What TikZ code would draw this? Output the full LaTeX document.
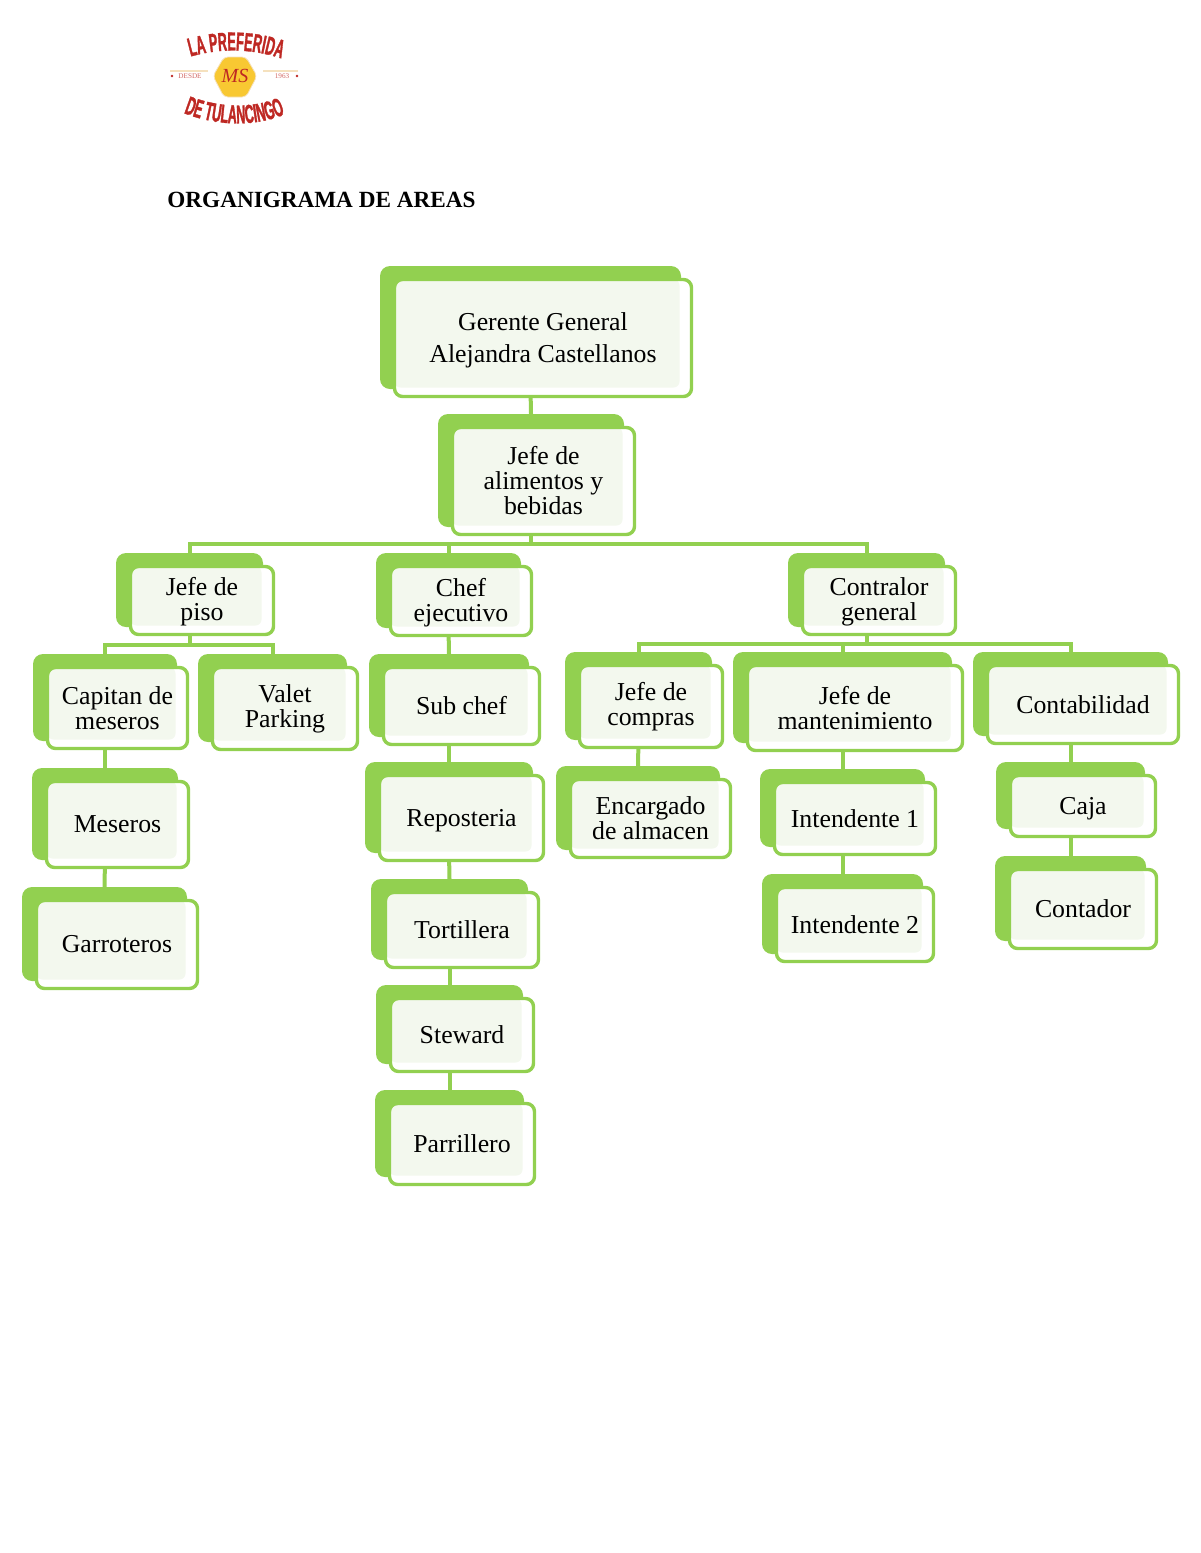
\documentclass[tikz,border=0pt]{standalone}
\usepackage{fontspec}
\usetikzlibrary{backgrounds,decorations.text}
\setmainfont{Liberation Serif}
\newfontfamily\logofont[FakeStretch=0.48,BoldFeatures={FakeBold=1.2}]{Liberation Sans}

\definecolor{boxgreen}{RGB}{146,208,80}
\definecolor{boxlight}{RGB}{243,248,238}
\definecolor{logored}{RGB}{190,40,35}
\definecolor{logoyellow}{RGB}{248,200,50}
\definecolor{logotan}{RGB}{245,225,190}

\tikzset{
  backbox/.style={draw=none,fill=boxgreen,rounded corners=5pt,inner sep=0pt,outer sep=0pt},
  frontbox/.style={draw=boxgreen,line width=1.7pt,fill=white,rounded corners=4pt,inner sep=0pt,outer sep=0pt,
    align=center,font=\fontsize{12.9}{12.5}\selectfont,
    path picture={\fill[boxlight,rounded corners=3pt] (path picture bounding box.north west) rectangle
      ([xshift=-6pt,yshift=4.5pt]path picture bounding box.south east);}},
  link/.style={draw=boxgreen,line width=2pt},
  logotext/.style={decorate,decoration={text along path,text align=center,text={#1}}},
}

% name, left, top, right, bottom, text
\newcommand{\orgbox}[6]{
  \node [backbox,minimum width={(#4-#2+1)*0.5pt},minimum height={(#5-#3+3)*0.5pt}]
    (#1back) at ({(#2+#4)/2-12.5},{(#3+#5)/2-10.5}) {};
  \node [frontbox,minimum width={(#4-#2-3)*0.5pt},minimum height={(#5-#3-3)*0.5pt}]
    (#1) at ({(#2+#4)/2},{(#3+#5)/2}) {#6};
}
\newcommand{\lowerline}{\rule{0pt}{10.5pt}}
\newcommand{\nodepth}[1]{\raisebox{0pt}[\height][0pt]{#1}}

\begin{document}
\begin{tikzpicture}[x=0.5pt,y=-0.5pt]
\useasboundingbox (0,0) rectangle (1200,1553);

% logo
\path [logotext={|\logofont\bfseries\fontsize{13}{13}\selectfont\color{logored}|LA PREFERIDA}]
  (189,57) .. controls (220,48) and (250,48) .. (283,59);
\path [logotext={|\logofont\bfseries\fontsize{13}{13}\selectfont\color{logored}|DE TULANCINGO}]
  (181,112) .. controls (215,126) and (255,128) .. (288,113);
\draw [logotan,line width=0.6pt] (170,71) -- (208,71);
\draw [logotan,line width=0.6pt] (263,71) -- (298,71);
\fill [logoyellow,draw=logotan,line width=0.4pt,rounded corners=2pt]
  (213,76) -- (224,57) -- (246,57) -- (257,76) -- (246,97) -- (224,97) -- cycle;
\node [text=logored,font=\fontsize{10}{10}\selectfont\itshape] (logoms) at (235,76) {MS};
\node [text=logored!70,font=\fontsize{3.6}{4}\selectfont] (logodesde) at (190,76) {DESDE};
\node [text=logored!70,font=\fontsize{3.6}{4}\selectfont] (logoyear) at (282,76) {1963};
\fill [logored] (172,76) circle (0.7pt) (297,76) circle (0.7pt);

% title
\node [anchor=west,inner sep=0pt,font=\fontsize{11.6}{12}\selectfont\bfseries] (title) at (167,200) {ORGANIGRAMA DE AREAS};

% boxes
\orgbox{gerente}{393}{278}{693}{398}{\rule{0pt}{11.5pt}Gerente General\\[3.5pt]Alejandra Castellanos}
\orgbox{alimentos}{451}{426}{636}{536}{Jefe de\\alimentos y\\bebidas}
\orgbox{piso}{129}{565}{275}{636}{\lowerline Jefe de\\piso}
\orgbox{chef}{389}{565}{533}{637}{\lowerline Chef\\ejecutivo}
\orgbox{contralor}{801}{565}{957}{636}{\lowerline Contralor\\general}
\orgbox{capitan}{46}{666}{189}{750}{Capitan de\\meseros}
\orgbox{valet}{211}{666}{359}{751}{Valet\\Parking}
\orgbox{subchef}{382}{666}{541}{746}{Sub chef}
\orgbox{compras}{578}{664}{724}{749}{Jefe de\\compras}
\orgbox{mantenimiento}{746}{664}{964}{752}{Jefe de\\mantenimiento}
\orgbox{contabilidad}{986}{664}{1180}{745}{Contabilidad}
\orgbox{meseros}{45}{780}{190}{869}{Meseros}
\orgbox{reposteria}{378}{774}{545}{862}{\nodepth{Reposteria}}
\orgbox{almacen}{569}{778}{732}{859}{Encargado\\de almacen}
\orgbox{intendenteA}{773}{781}{937}{856}{Intendente 1}
\orgbox{caja}{1009}{774}{1157}{838}{\nodepth{Caja}}
\orgbox{garroteros}{35}{899}{199}{990}{Garroteros}
\orgbox{tortillera}{384}{891}{540}{969}{Tortillera}
\orgbox{intendenteB}{775}{886}{935}{963}{Intendente 2}
\orgbox{contador}{1008}{868}{1158}{950}{Contador}
\orgbox{steward}{389}{997}{535}{1073}{Steward}
\orgbox{parrillero}{388}{1102}{536}{1186}{Parrillero}

% connectors
\coordinate (barA) at (0,544);
\coordinate (barB) at (0,645);
\coordinate (barC) at (0,644);
\begin{scope}[on background layer]
\draw [link] (gerenteback.south) -- (alimentosback.north);
\foreach \to in {pisoback,chefback,contralorback}
  \draw [link] (alimentosback.south) -- (alimentosback.south |- barA) -| (\to.north);
\foreach \to in {capitanback,valetback}
  \draw [link] (pisoback.south) -- (pisoback.south |- barB) -| (\to.north);
\foreach \to in {comprasback,mantenimientoback,contabilidadback}
  \draw [link] (contralorback.south) -- (contralorback.south |- barC) -| (\to.north);
\foreach \from/\to in {chefback/subchefback,subchefback/reposteriaback,reposteriaback/tortilleraback,
  tortilleraback/stewardback,stewardback/parrilleroback,capitanback/meserosback,meserosback/garroterosback,
  comprasback/almacenback,mantenimientoback/intendenteAback,intendenteAback/intendenteBback,
  contabilidadback/cajaback,cajaback/contadorback}
  \draw [link] (\from.south) -- (\to.north);
\end{scope}
\end{tikzpicture}
\end{document}
